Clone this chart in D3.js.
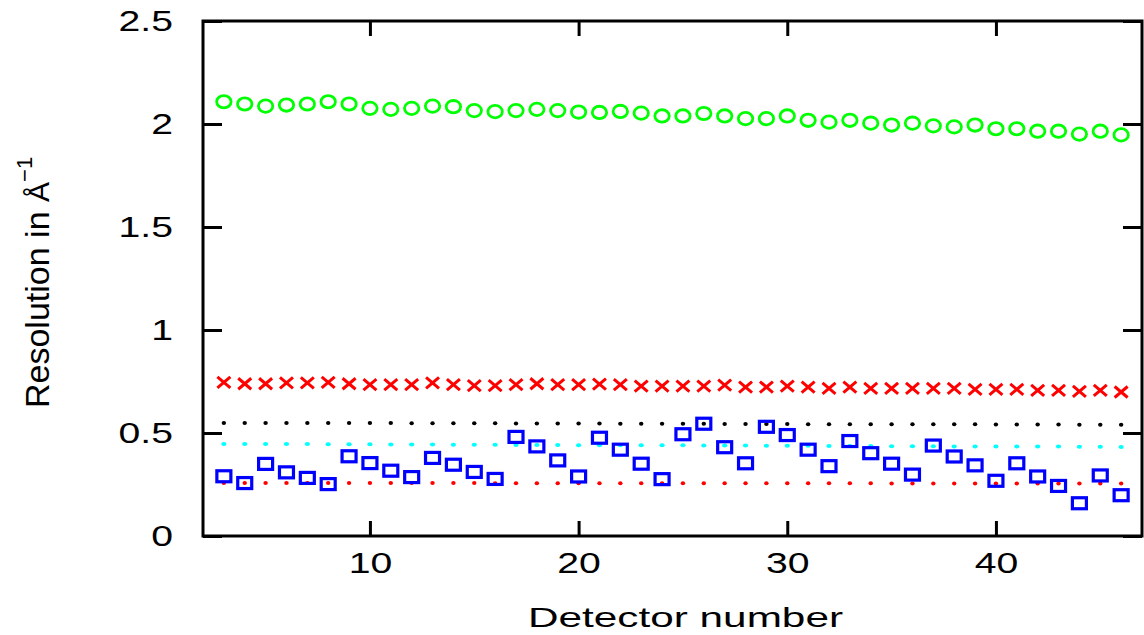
<!DOCTYPE html>
<html>
<head>
<meta charset="utf-8">
<script src="https://cdn.jsdelivr.net/npm/d3@7"></script>
<style>
  html, body { margin: 0; padding: 0; background: #fff; }
  svg { display: block; }
  text { font-family: "Liberation Sans", Arial, sans-serif; fill: #000; }
</style>
</head>
<body>
<svg id="chart" width="1144" height="635"></svg>
<script>
// Detector numbers 3..46
const detectors = [3,4,5,6,7,8,9,10,11,12,13,14,15,16,17,18,19,20,21,22,23,24,
  25,26,27,28,29,30,31,32,33,34,35,36,37,38,39,40,41,42,43,44,45,46];

// Resolution per detector (Å^-1)
const resCircles = [2.108,2.097,2.087,2.092,2.097,2.108,2.097,2.076,2.071,2.076,
  2.087,2.084,2.065,2.060,2.065,2.071,2.065,2.058,2.056,2.061,2.053,2.039,2.039,
  2.051,2.039,2.026,2.026,2.039,2.018,2.009,2.018,2.004,1.995,2.004,1.991,1.986,
  1.995,1.977,1.977,1.965,1.965,1.951,1.965,1.947];

const resCrosses = [0.746,0.739,0.739,0.743,0.743,0.746,0.739,0.735,0.735,0.735,
  0.743,0.735,0.730,0.730,0.735,0.739,0.735,0.735,0.737,0.735,0.728,0.728,0.728,
  0.728,0.732,0.723,0.723,0.728,0.723,0.717,0.723,0.717,0.717,0.717,0.717,0.717,
  0.712,0.712,0.712,0.707,0.707,0.702,0.707,0.699];

const resSquares = [0.290,0.257,0.350,0.309,0.282,0.252,0.387,0.354,0.317,0.286,
  0.379,0.346,0.311,0.277,0.481,0.435,0.367,0.289,0.477,0.419,0.351,0.276,0.494,
  0.545,0.431,0.353,0.530,0.490,0.419,0.339,0.461,0.402,0.351,0.298,0.439,0.386,
  0.343,0.268,0.353,0.289,0.243,0.159,0.294,0.198];

const resBlackDots = [0.549,0.549,0.549,0.549,0.548,0.548,0.548,0.548,0.548,0.547,
  0.547,0.547,0.547,0.547,0.546,0.546,0.546,0.546,0.546,0.545,0.545,0.545,0.545,
  0.545,0.544,0.544,0.544,0.544,0.543,0.543,0.543,0.543,0.543,0.542,0.542,0.542,
  0.542,0.541,0.541,0.541,0.541,0.540,0.540,0.540];

const resCyanDots = [0.447,0.447,0.446,0.446,0.446,0.445,0.445,0.445,0.444,0.444,
  0.444,0.443,0.443,0.443,0.442,0.442,0.442,0.441,0.441,0.441,0.440,0.440,0.440,
  0.439,0.439,0.439,0.438,0.438,0.438,0.437,0.437,0.437,0.436,0.436,0.436,0.435,
  0.435,0.435,0.434,0.434,0.434,0.433,0.433,0.432];

const resRedDots = [0.257,0.257,0.257,0.257,0.257,0.257,0.257,0.257,0.257,0.257,
  0.257,0.257,0.257,0.256,0.256,0.256,0.256,0.256,0.256,0.256,0.256,0.256,0.256,
  0.256,0.256,0.256,0.256,0.256,0.256,0.256,0.256,0.256,0.255,0.255,0.255,0.255,
  0.255,0.255,0.255,0.255,0.255,0.255,0.255,0.255];

const xTicks = [10, 20, 30, 40];
const yTicks = [0, 0.5, 1, 1.5, 2, 2.5];
const yTickLabels = ["0", "0.5", "1", "1.5", "2", "2.5"];

const svg = d3.select("#chart");
const plotLeft = 203, plotRight = 1142, plotTop = 21, plotBottom = 536;

const x = d3.scaleLinear().domain([2, 47]).range([plotLeft, plotRight]);
const y = d3.scaleLinear().domain([0, 2.5]).range([plotBottom, plotTop]);

// widen glyphs horizontally by a factor, keeping the anchor
function widen(sel, factor) {
  sel.each(function() {
    const w = this.getComputedTextLength();
    d3.select(this).attr("textLength", w * factor).attr("lengthAdjust", "spacingAndGlyphs");
  });
}

// axes with inward ticks
const axY = svg.append("g").attr("transform", `translate(${plotLeft},0)`)
  .call(d3.axisLeft(y).tickValues(yTicks).tickSize(-19).tickPadding(30)
    .tickFormat((d, i) => yTickLabels[i]));
const axYR = svg.append("g").attr("transform", `translate(${plotRight},0)`)
  .call(d3.axisRight(y).tickValues(yTicks).tickSize(-19).tickFormat(""));
const axX = svg.append("g").attr("transform", `translate(0,${plotBottom})`)
  .call(d3.axisBottom(x).tickValues(xTicks).tickSize(-15).tickPadding(16)
    .tickFormat(d3.format("d")));
const axXT = svg.append("g").attr("transform", `translate(0,${plotTop})`)
  .call(d3.axisTop(x).tickValues(xTicks).tickSize(-15).tickFormat(""));

[axY, axYR, axX, axXT].forEach(a => {
  a.select(".domain").remove();
  a.selectAll(".tick line").attr("stroke", "#000").attr("stroke-width", 3);
  a.selectAll("text").attr("font-size", 29).attr("font-family", "Liberation Sans, Arial, sans-serif")
    .attr("fill", "#000");
});
axY.selectAll(".tick text").call(widen, 1.35);
axX.selectAll(".tick text").call(widen, 1.35);

// frame
svg.append("rect")
  .attr("x", plotLeft).attr("y", plotTop)
  .attr("width", plotRight - plotLeft).attr("height", plotBottom - plotTop)
  .attr("fill", "none").attr("stroke", "#000").attr("stroke-width", 3);

// dotted series
function dotSeries(values, color, rx, ry) {
  svg.append("g").selectAll("ellipse").data(detectors).join("ellipse")
    .attr("cx", d => x(d))
    .attr("cy", (d, i) => y(values[i]))
    .attr("rx", rx).attr("ry", ry)
    .attr("fill", color);
}
dotSeries(resBlackDots, "#000000", 2.2, 2);
dotSeries(resCyanDots, "#00ffff", 2.6, 2);
dotSeries(resRedDots, "#ff0000", 2.2, 2);

// squares
svg.append("g").selectAll("rect").data(detectors).join("rect")
  .attr("x", d => x(d) - 7)
  .attr("y", (d, i) => y(resSquares[i]) - 5.5)
  .attr("width", 14).attr("height", 11)
  .attr("fill", "none").attr("stroke", "#0000ff").attr("stroke-width", 3.2);

// crosses
svg.append("g").selectAll("path").data(detectors).join("path")
  .attr("transform", (d, i) => `translate(${x(d)},${y(resCrosses[i])})`)
  .attr("d", "M-6.5,-5.5L6.5,5.5M-6.5,5.5L6.5,-5.5")
  .attr("fill", "none").attr("stroke", "#ff0000").attr("stroke-width", 3);

// circles
svg.append("g").selectAll("ellipse").data(detectors).join("ellipse")
  .attr("cx", d => x(d))
  .attr("cy", (d, i) => y(resCircles[i]))
  .attr("rx", 7.2).attr("ry", 6.2)
  .attr("fill", "none").attr("stroke", "#00ff00").attr("stroke-width", 2.8);

// x axis title
svg.append("text")
  .attr("x", 528).attr("y", 627)
  .attr("font-size", 28)
  .attr("textLength", 315).attr("lengthAdjust", "spacingAndGlyphs")
  .text("Detector number");

// y axis title
const yt = svg.append("text")
  .attr("transform", "translate(49,408) rotate(-90)")
  .attr("font-size", 34);
yt.append("tspan").text("Resolution in ");
yt.append("tspan").attr("font-size", 30).text("Å");
yt.append("tspan").attr("font-size", 22).attr("dy", -17).text("−1");
</script>
</body>
</html>
